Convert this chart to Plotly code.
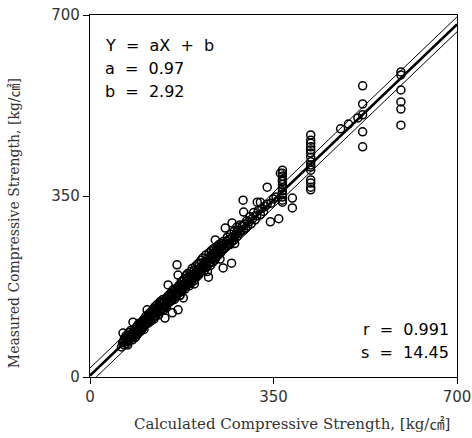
import plotly.graph_objects as go

# regression parameters shown on chart
a_coef = 0.97
b_coef = 2.92
r_val = 0.991
s_val = 14.45

calc_x = [
    60,62,63,64,65,66,67,68,69,70,71,72,73,74,75,76,77,78,79,80,81,82,83,84,85,86,87,88,89,90,
    91,92,93,94,95,96,97,98,99,100,
    101,102,103,104,105,106,107,108,109,110,111,112,113,114,115,116,117,118,119,120,121,122,123,124,125,
    126,127,128,129,130,131,132,133,134,135,136,137,138,139,140,141,142,143,144,145,146,147,148,149,150,
    151,152,153,154,155,156,157,158,159,160,
    161,162,163,164,165,166,167,168,168,169,170,171,172,173,174,175,176,177,178,178,179,180,181,182,183,
    184,185,186,187,188,189,190,191,192,193,194,195,196,197,198,199,200,201,202,203,204,205,206,207,208,
    209,210,211,212,213,214,215,216,217,218,219,220,221,222,223,224,226,226,227,228,229,230,231,232,233,
    234,235,236,237,238,239,239,240,241,242,243,244,245,246,247,248,249,250,
    251,252,254,254,255,256,258,258,260,261,262,264,265,267,268,270,270,271,272,274,275,276,278,280,281,
    283,285,286,288,290,292,293,293,295,297,299,301,303,305,307,310,312,315,318,319,321,325,325,328,331,
    334,338,338,344,345,350,355,360,363,
    367,367,367,367,367,367,367,367,367,367,367,367,
    386,386,
    421,421,421,421,421,421,421,421,421,421,421,421,421,421,421,
    478,493,511,520,520,520,520,520,
    593,593,593,593,593,593,
    72,79,86,94,103,112,122,133,146,158,171,186,199,212,224,236,248,262,276,
]
meas_y = [
    58,66,85,70,62,75,68,72,80,64,74,78,70,86,72,80,74,90,77,82,72,106,86,80,92,84,78,96,88,82,
    100,90,86,98,94,88,104,96,92,108,
    96,104,112,100,110,102,118,106,130,112,104,120,110,116,124,108,118,128,114,122,132,116,126,136,118,
    130,124,140,126,132,120,138,130,146,128,136,142,132,150,136,130,144,114,140,152,138,146,156,178,144,
    150,160,146,154,162,148,124,158,152,166,
    150,160,170,156,164,217,174,130,197,162,168,178,158,170,184,166,176,186,153,172,180,190,170,178,196,
    176,186,200,180,190,176,196,186,204,182,192,210,190,198,186,206,196,214,192,204,198,218,196,206,220,
    200,210,204,226,206,214,230,210,218,206,224,214,236,212,222,230,193,218,240,222,230,216,244,228,236,
    222,248,230,240,226,265,236,244,232,252,238,246,236,256,242,250,240,258,
    246,254,211,262,248,256,288,250,262,254,270,258,266,256,276,220,262,298,270,264,282,270,276,290,272,
    284,278,294,282,292,342,319,284,296,288,302,292,300,310,296,306,318,304,312,338,322,338,314,326,320,
    330,367,334,300,336,344,348,306,394,
    400,394,388,382,378,372,366,360,354,348,342,338,
    346,327,
    468,458,452,445,439,433,425,416,410,406,400,381,375,367,362,
    480,489,501,563,528,507,474,445,
    590,584,555,532,518,487,
    62,84,76,104,92,122,112,144,134,168,158,192,180,220,204,244,228,270,258,
]

x_ticks = [0, 350, 700]
axis_range = [0, 700]

line_x = [axis_range[0], axis_range[1]]
fit_y = [a_coef * v + b_coef for v in line_x]
up_y = [a_coef * v + b_coef + s_val for v in line_x]
lo_y = [a_coef * v + b_coef - s_val for v in line_x]

fig = go.Figure()
fig.add_trace(go.Scatter(x=calc_x, y=meas_y, mode="markers",
                         marker=dict(symbol="circle-open", size=8, color="black",
                                     line=dict(width=1.5, color="black")),
                         cliponaxis=True, showlegend=False))
fig.add_trace(go.Scatter(x=line_x, y=up_y, mode="lines",
                         line=dict(color="black", width=1), showlegend=False))
fig.add_trace(go.Scatter(x=line_x, y=lo_y, mode="lines",
                         line=dict(color="black", width=1), showlegend=False))
fig.add_trace(go.Scatter(x=line_x, y=fit_y, mode="lines",
                         line=dict(color="black", width=2.6), showlegend=False))

ann_font = dict(family="DejaVu Sans", size=16, color="black")
left_lines = ["Y  =  aX  +  b", f"a  =  {a_coef:.2f}", f"b  =  {b_coef:.2f}"]
for i, t in enumerate(left_lines):
    fig.add_annotation(xref="paper", yref="paper", x=0.035, y=0.915 - i * 0.0635,
                       text=t, showarrow=False, xanchor="left", yanchor="middle",
                       font=ann_font)
right_lines = [f"r  =  {r_val:.3f}", f"s  =  {s_val:.2f}"]
for i, t in enumerate(right_lines):
    fig.add_annotation(xref="paper", yref="paper", x=0.985, y=0.13 - i * 0.0635,
                       text=t, showarrow=False, xanchor="right", yanchor="middle",
                       font=ann_font)

# axis titles placed as annotations (paper coords)
fig.add_annotation(xref="paper", yref="paper", x=0.55, y=-0.13,
                   text="Calculated Compressive Strength, [kg/㎠]", showarrow=False,
                   xanchor="center", yanchor="middle",
                   font=dict(family="DejaVu Serif, Noto Sans CJK KR", size=15, color="#333"))
fig.add_annotation(xref="paper", yref="paper", x=-0.207, y=0.425,
                   text="Measured Compressive Strength, [kg/㎠]", showarrow=False,
                   textangle=-90, xanchor="center", yanchor="middle",
                   font=dict(family="DejaVu Serif, Noto Sans CJK KR", size=14, color="#333"))

tick_font = dict(family="DejaVu Sans", size=15, color="#333")
axis_common = dict(range=axis_range, tickvals=x_ticks, ticktext=[str(v) for v in x_ticks],
                   showgrid=False, zeroline=False, showline=True, linecolor="black",
                   linewidth=1.2, mirror=True, ticks="outside", ticklen=6,
                   tickcolor="black", tickfont=tick_font, automargin=False,
                   ticklabeloverflow="allow")

fig.update_xaxes(**axis_common)
fig.update_yaxes(**axis_common)

fig.update_layout(width=472, height=438, margin=dict(l=90, r=15, t=15, b=61),
                  plot_bgcolor="white", paper_bgcolor="white")

# remove the default page body margin so the figure fills the window exactly
fig.write_html("out.html", config={"displayModeBar": False},
               post_script="document.body.style.margin='0px';")
